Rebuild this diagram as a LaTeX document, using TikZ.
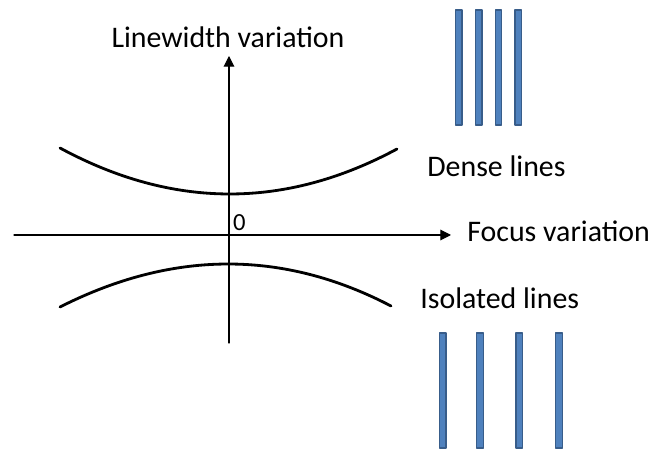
\documentclass[tikz,border=0pt]{standalone}
\usepackage{fontspec}
\setmainfont{Carlito}
\usetikzlibrary{positioning, calc}
\usetikzlibrary{arrows.meta}
\definecolor{barfill}{HTML}{4F81BD}
\definecolor{barline}{HTML}{385D8A}

\begin{document}
\begin{tikzpicture}[x=0.02cm, y=-0.02cm, line cap=round, line join=round,
  font=\fontsize{17}{20}\selectfont,
  axis/.style={-{Triangle[length=6pt,width=6pt]}, semithick},
  curve/.style={line width=1.6pt},
  bar/.style={fill=barfill, draw=barline, line width=0.6pt}]
\useasboundingbox (0,0) rectangle (650,449);

% --- Assi ---
\coordinate (xl) at (14,235);
\coordinate (xr) at (451,235);
\coordinate (yb) at (229,343);
\coordinate (yt) at (229,56);
\draw[axis] (xl) -- (xr);
\draw[axis] (yb) -- (yt);

% --- Etichette degli assi ---
\node[inner sep=0] (lw) at (228,37) {Linewidth variation};
\node[anchor=west, inner sep=0] (fv) at (467,231) {Focus variation};
\node[anchor=south west, inner sep=1pt] (zero) at (231,233) {\fontsize{14}{16}\selectfont 0};

% --- Curve ---
\draw[curve] (60,148) .. controls (172.7,209) and (285,209.3) .. (397,149);
\draw[curve] (60,307) .. controls (172.7,250) and (283,249.7) .. (391,306);

% --- Linee dense ---
\foreach \xx in {458.7,478.7,498.5,518.3}
  \draw[bar] (\xx-3.3,10) rectangle (\xx+3.3,125);
\node[anchor=west, inner sep=0] (dense) at (427,166) {Dense lines};

% --- Linee isolate ---
\foreach \xx in {442.7,480,519.3,559}
  \draw[bar] (\xx-3.3,333) rectangle (\xx+3.3,448);
\node[anchor=west, inner sep=0] (iso) at (420,298) {Isolated lines};
\end{tikzpicture}
\end{document}
